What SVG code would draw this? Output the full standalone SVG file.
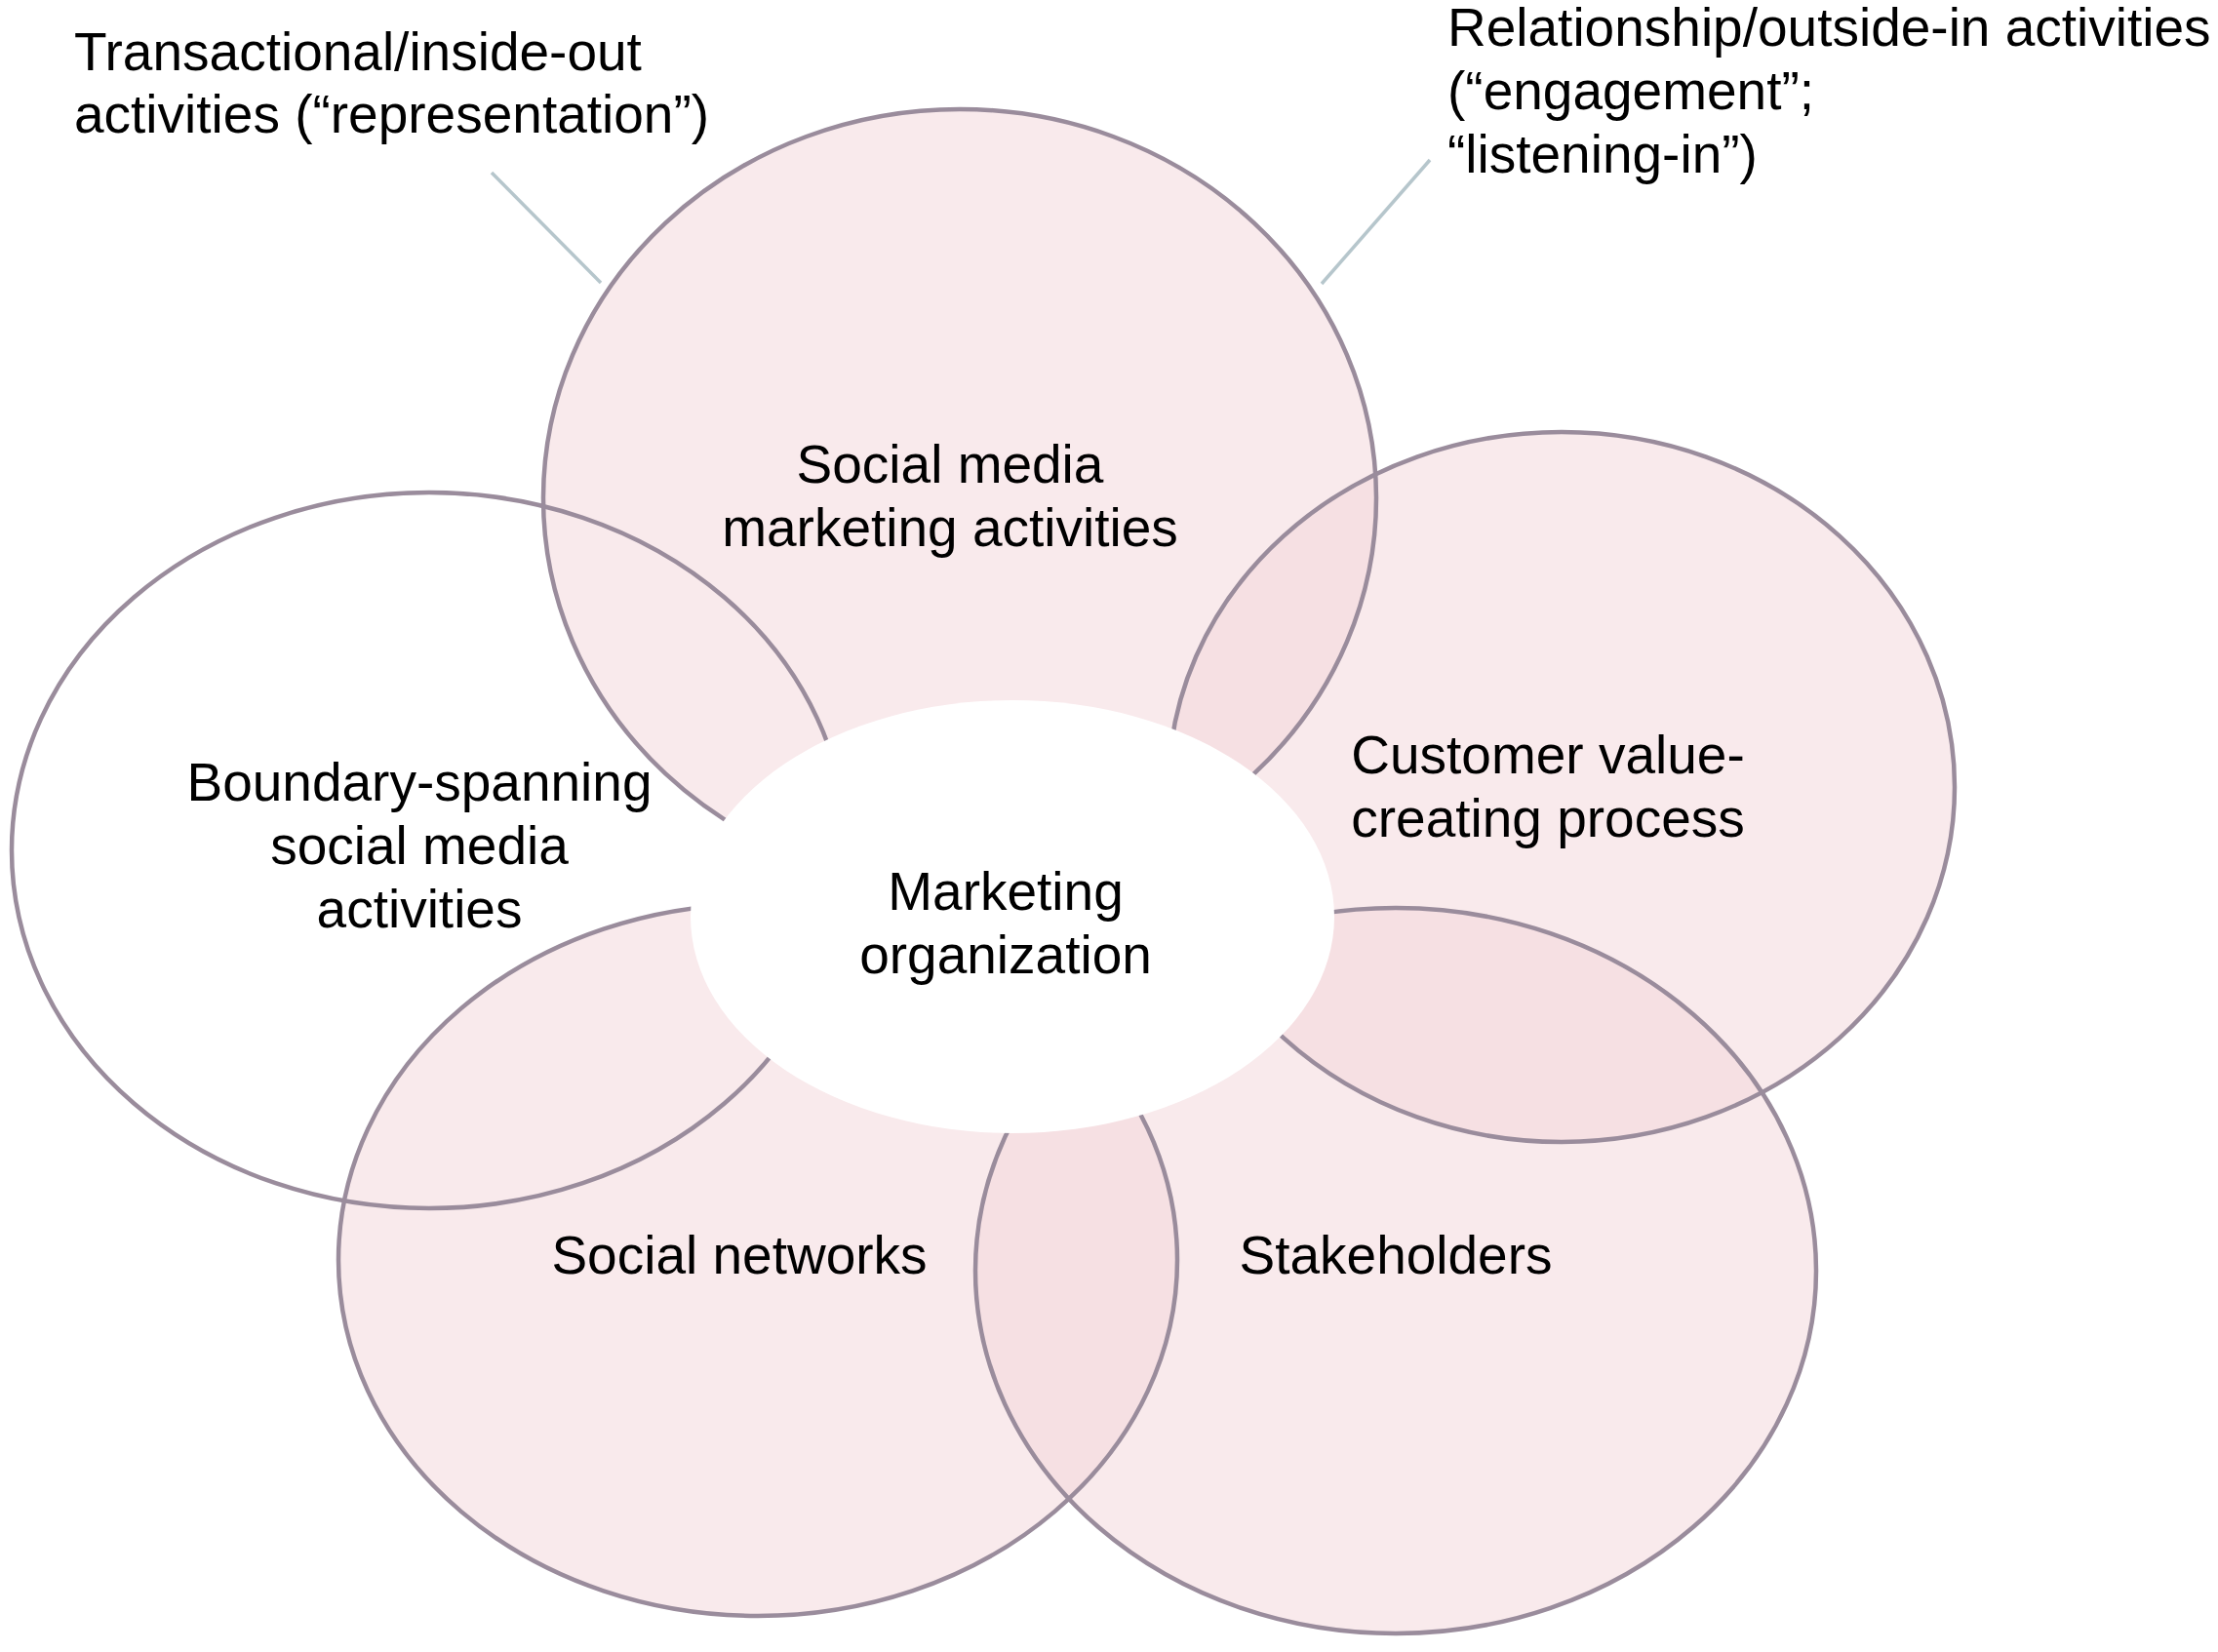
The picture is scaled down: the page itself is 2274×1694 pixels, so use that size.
<svg xmlns="http://www.w3.org/2000/svg" width="2274" height="1694" viewBox="0 0 2274 1694">
<style>
.pink{fill:rgb(243,213,217);fill-opacity:0.5;stroke:none}
.plain{fill:#ffffff;stroke:none}
.outline{fill:none;stroke:#9a8c9c;stroke-width:4.5}
.center{fill:#ffffff;stroke:none}
.lbl{font-family:"Liberation Sans",Arial,sans-serif;font-size:55px;fill:#000}
.mid{text-anchor:middle}
.leader{stroke:#b6c6cc;stroke-width:3.5;fill:none}
</style>
<defs>
<ellipse id="e-bs" cx="440" cy="872" rx="428" ry="367"/>
<ellipse id="e-sm" cx="984" cy="511" rx="427" ry="399"/>
<ellipse id="e-cv" cx="1601" cy="807" rx="403" ry="364"/>
<ellipse id="e-sn" cx="777" cy="1292" rx="430" ry="365"/>
<ellipse id="e-st" cx="1431" cy="1303" rx="431" ry="372"/>
</defs>
<rect width="2274" height="1694" fill="#ffffff"/>
<g id="boundary-spanning">
<use href="#e-bs" class="plain"/>
<text class="lbl mid" x="430" y="821">Boundary-spanning</text>
<text class="lbl mid" x="430" y="886">social media</text>
<text class="lbl mid" x="430" y="951">activities</text>
</g>
<g id="social-media-marketing">
<use href="#e-sm" class="pink"/>
<text class="lbl mid" x="974" y="495">Social media</text>
<text class="lbl mid" x="974" y="560">marketing activities</text>
</g>
<g id="customer-value">
<use href="#e-cv" class="pink"/>
<text class="lbl mid" x="1587" y="793">Customer value-</text>
<text class="lbl mid" x="1587" y="858">creating process</text>
</g>
<g id="social-networks">
<use href="#e-sn" class="pink"/>
<text class="lbl mid" x="758" y="1306">Social networks</text>
</g>
<g id="stakeholders">
<use href="#e-st" class="pink"/>
<text class="lbl mid" x="1431" y="1306">Stakeholders</text>
</g>
<g id="outlines">
<use href="#e-bs" class="outline"/>
<use href="#e-sm" class="outline"/>
<use href="#e-cv" class="outline"/>
<use href="#e-sn" class="outline"/>
<use href="#e-st" class="outline"/>
</g>
<g id="marketing-organization">
<ellipse class="center" cx="1038" cy="940" rx="330" ry="222"/>
<text class="lbl mid" x="1031" y="933">Marketing</text>
<text class="lbl mid" x="1031" y="998">organization</text>
</g>
<g id="transactional-label">
<text class="lbl" x="76" y="72">Transactional/inside-out</text>
<text class="lbl" x="76" y="136">activities (“representation”)</text>
</g>
<g id="relationship-label">
<text class="lbl" x="1484" y="47">Relationship/outside-in activities</text>
<text class="lbl" x="1484" y="112">(“engagement”;</text>
<text class="lbl" x="1484" y="177">“listening-in”)</text>
</g>
<g id="connectors">
<line class="leader" x1="504" y1="177" x2="616" y2="290"/>
<line class="leader" x1="1466" y1="164" x2="1355" y2="291"/>
</g>
</svg>
